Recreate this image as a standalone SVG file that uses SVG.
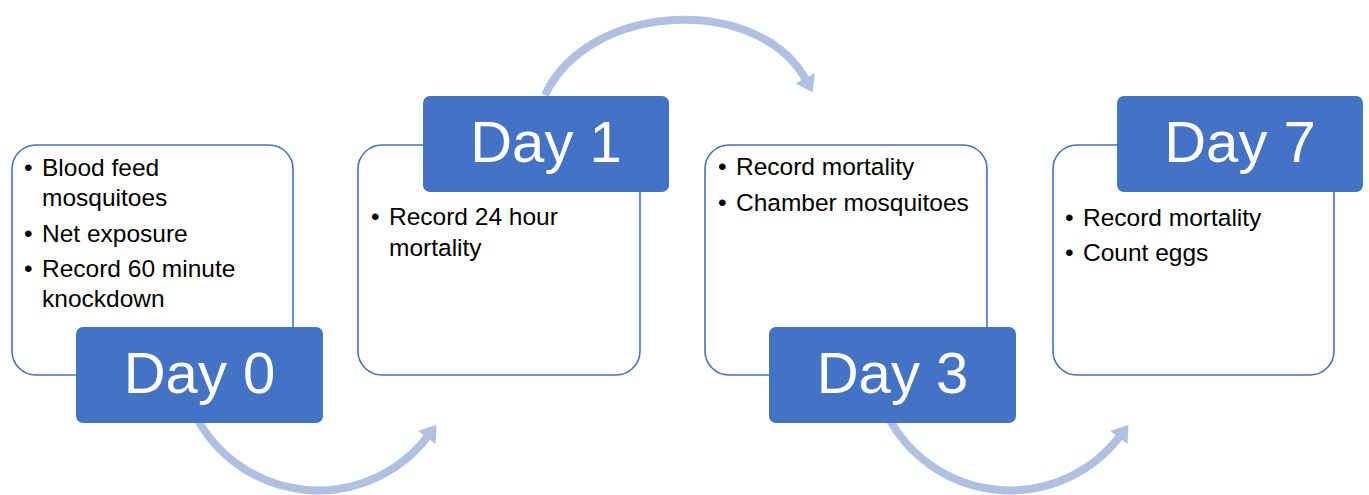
<svg xmlns="http://www.w3.org/2000/svg" width="1369" height="495" viewBox="0 0 1369 495">
<style>
.card{fill:#FFFFFF;stroke:#4472C4;stroke-width:1.6}
.tab{fill:#4472C4;stroke:none}
.day{font-family:"Liberation Sans",Arial,sans-serif;font-size:58px;fill:#FFFFFF;text-anchor:middle}
.b{font-family:"Liberation Sans",Arial,sans-serif;font-size:24.5px;fill:#000000}
.arc{fill:none;stroke:#B1BFE1;stroke-width:8}
</style>
<defs>
<marker id="ah" markerUnits="userSpaceOnUse" markerWidth="20" markerHeight="22" refX="2" refY="11" orient="auto">
<path d="M0,0 L16,11 L0,22 z" fill="#B1BFE1"/>
</marker>
</defs>
<rect width="1369" height="495" fill="#FFFFFF"/>
<g id="connectors">
<path class="arc" d="M196,416.5 A138,138 0 0 0 428,436" marker-end="url(#ah)"/>
<path class="arc" d="M545,95 C590,0 760,-5 806,80" marker-end="url(#ah)"/>
<path class="arc" d="M888,416.5 A138,138 0 0 0 1120,436" marker-end="url(#ah)"/>
</g>
<g id="day0">
<rect class="card" x="12" y="145" width="281" height="230" rx="24"/>
<text class="b" x="24" y="176">•</text><text class="b" x="42" y="176">Blood feed</text>
<text class="b" x="42" y="206">mosquitoes</text>
<text class="b" x="24" y="242">•</text><text class="b" x="42" y="242">Net exposure</text>
<text class="b" x="24" y="277">•</text><text class="b" x="42" y="277">Record 60 minute</text>
<text class="b" x="42" y="307">knockdown</text>
<rect class="tab" x="76" y="327" width="247" height="96" rx="7"/>
<text class="day" x="199.5" y="393">Day 0</text>
</g>
<g id="day1">
<rect class="card" x="358" y="145" width="282" height="230" rx="24"/>
<text class="b" x="371" y="225">•</text><text class="b" x="389" y="225">Record 24 hour</text>
<text class="b" x="389" y="256">mortality</text>
<rect class="tab" x="423" y="96" width="246" height="96" rx="7"/>
<text class="day" x="546" y="162">Day 1</text>
</g>
<g id="day3">
<rect class="card" x="705" y="145" width="282" height="230" rx="24"/>
<text class="b" x="718" y="175">•</text><text class="b" x="736" y="175">Record mortality</text>
<text class="b" x="718" y="211">•</text><text class="b" x="736" y="211">Chamber mosquitoes</text>
<rect class="tab" x="769" y="327" width="247" height="96" rx="7"/>
<text class="day" x="892.5" y="393">Day 3</text>
</g>
<g id="day7">
<rect class="card" x="1053" y="145" width="281" height="230" rx="24"/>
<text class="b" x="1065" y="226">•</text><text class="b" x="1083" y="226">Record mortality</text>
<text class="b" x="1065" y="261">•</text><text class="b" x="1083" y="261">Count eggs</text>
<rect class="tab" x="1117" y="96" width="246" height="96" rx="7"/>
<text class="day" x="1240" y="162">Day 7</text>
</g>
</svg>
